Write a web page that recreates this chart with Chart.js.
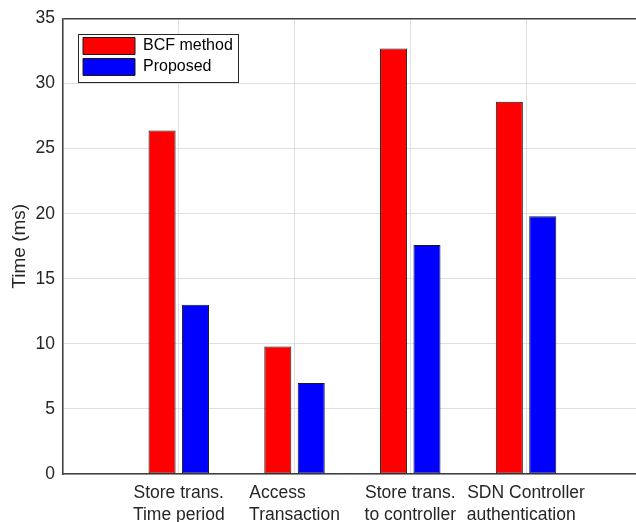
<!DOCTYPE html>
<html lang="en">
<head>
  <meta charset="UTF-8" />
  <title>Time per operation</title>
  <script src="https://cdn.jsdelivr.net/npm/chart.js"></script>
  <style>
    html, body {
      margin: 0;
      padding: 0;
      background: #fff;
      overflow: hidden;
    }
    .wrap {
      width: 636px;
      height: 522px;
    }
  </style>
</head>
<body>
  <div class="wrap"><canvas id="chart"></canvas></div>

  <script>
    // values
    const categories = [
      ['Store trans.', 'Time period'],
      ['Access', 'Transaction'],
      ['Store trans.', 'to controller'],
      ['SDN Controller', 'authentication']
    ];
    const bcfTimes = [26.4, 9.8, 32.7, 28.6];
    const proposedTimes = [13.0, 7.0, 17.6, 19.8];
    const yTicks = [0, 5, 10, 15, 20, 25, 30, 35];

    const FONT = '"Liberation Sans", Arial, sans-serif';
    const TEXT = '#262626';
    const TICK_SIZE = 17.5;
    Chart.defaults.font.family = FONT;

    // MATLAB keeps the lines of a tick label left aligned inside a centred block,
    // so pad the shorter line with spaces
    const mctx = document.createElement('canvas').getContext('2d');
    function blockLines(lines) {
      mctx.font = TICK_SIZE + 'px ' + FONT;
      const w = lines.map(s => mctx.measureText(s).width);
      const max = Math.max(...w);
      const sp = mctx.measureText(' ').width;
      return lines.map((s, i) => s + ' '.repeat(Math.round((max - w[i]) / sp)));
    }

    function drawLegendFrame(chart) {
      const lg = chart.legend;
      const ctx = chart.ctx;
      const w = Math.max(...lg.legendHitBoxes.map(b => b.width));
      const x0 = Math.round(lg.left - 1) + 0.5;
      const y0 = Math.round(lg.top) + 0.5;
      const x1 = Math.round(lg.left + 4 + w + 5) + 0.5;
      const y1 = Math.round(lg.top + 48) + 0.5;
      ctx.save();
      ctx.fillStyle = '#fff';
      ctx.fillRect(x0, y0, x1 - x0, y1 - y0);
      ctx.strokeStyle = '#262626';
      ctx.lineWidth = 1;
      ctx.strokeRect(x0, y0, x1 - x0, y1 - y0);
      ctx.restore();
    }

    // legend sits inside the axes with a white framed box
    const legendBox = {
      id: 'legendBox',
      beforeDraw(chart) {
        const lg = chart.legend;
        const a = chart.chartArea;
        lg.left = a.left + 16;
        lg.top = a.top + 15;
        lg.right = a.right;
        lg.bottom = a.bottom;
        if (!lg._framed) {
          const draw = lg.draw.bind(lg);
          lg.draw = area => { drawLegendFrame(chart); draw(area); };
          lg._framed = true;
        }
      }
    };

    const axisColor = '#404040';
    const gridColor = '#dfdfdf';

    new Chart(document.getElementById('chart'), {
      type: 'bar',
      data: {
        datasets: [
          {
            label: 'BCF method',
            data: bcfTimes.map((v, i) => ({ x: i + 1, y: v })),
            backgroundColor: '#ff0000',
            borderColor: '#1a1a1a',
            borderWidth: 1,
            borderSkipped: false
          },
          {
            label: 'Proposed',
            data: proposedTimes.map((v, i) => ({ x: i + 1, y: v })),
            backgroundColor: '#0000ff',
            borderColor: '#1a1a1a',
            borderWidth: 1,
            borderSkipped: false
          }
        ]
      },
      options: {
        responsive: true,
        maintainAspectRatio: false,
        animation: false,
        categoryPercentage: 0.577,
        barPercentage: 0.81,
        layout: { padding: { top: 18, right: 0, bottom: 0, left: 0 } },
        plugins: {
          tooltip: { enabled: false },
          legend: {
            position: 'chartArea',
            align: 'start',
            labels: {
              boxWidth: 52,
              boxHeight: 17,
              padding: 4,
              color: '#000',
              font: { size: 16 }
            }
          }
        },
        scales: {
          x: {
            type: 'linear',
            min: 0,
            max: 4.95,
            offset: false,
            grid: {
              offset: false,
              color: gridColor,
              drawTicks: false
            },
            border: { color: axisColor, width: 1.5 },
            ticks: {
              stepSize: 1,
              includeBounds: false,
              autoSkip: false,
              maxRotation: 0,
              padding: 8,
              color: TEXT,
              font: { size: TICK_SIZE, lineHeight: 1.26 },
              callback: v => (v >= 1 && v <= categories.length) ? blockLines(categories[v - 1]) : ''
            },
            afterFit: s => { s.height = 48; }
          },
          y: {
            min: yTicks[0],
            max: yTicks[yTicks.length - 1],
            grid: {
              drawTicks: false,
              color: c => c.tick.value === yTicks[yTicks.length - 1] ? axisColor : gridColor,
              lineWidth: c => c.tick.value === yTicks[yTicks.length - 1] ? 1.5 : 1
            },
            border: { color: axisColor, width: 1.5 },
            afterBuildTicks: s => { s.ticks = yTicks.map(v => ({ value: v })); },
            ticks: {
              padding: 8,
              color: TEXT,
              font: { size: TICK_SIZE }
            },
            title: {
              display: true,
              text: 'Time (ms)',
              color: TEXT,
              font: { size: 19, lineHeight: 1.2 },
              padding: { top: 8, bottom: 0 }
            },
            afterFit: s => { s.width = 63; }
          }
        }
      },
      plugins: [legendBox]
    });
  </script>
</body>
</html>
